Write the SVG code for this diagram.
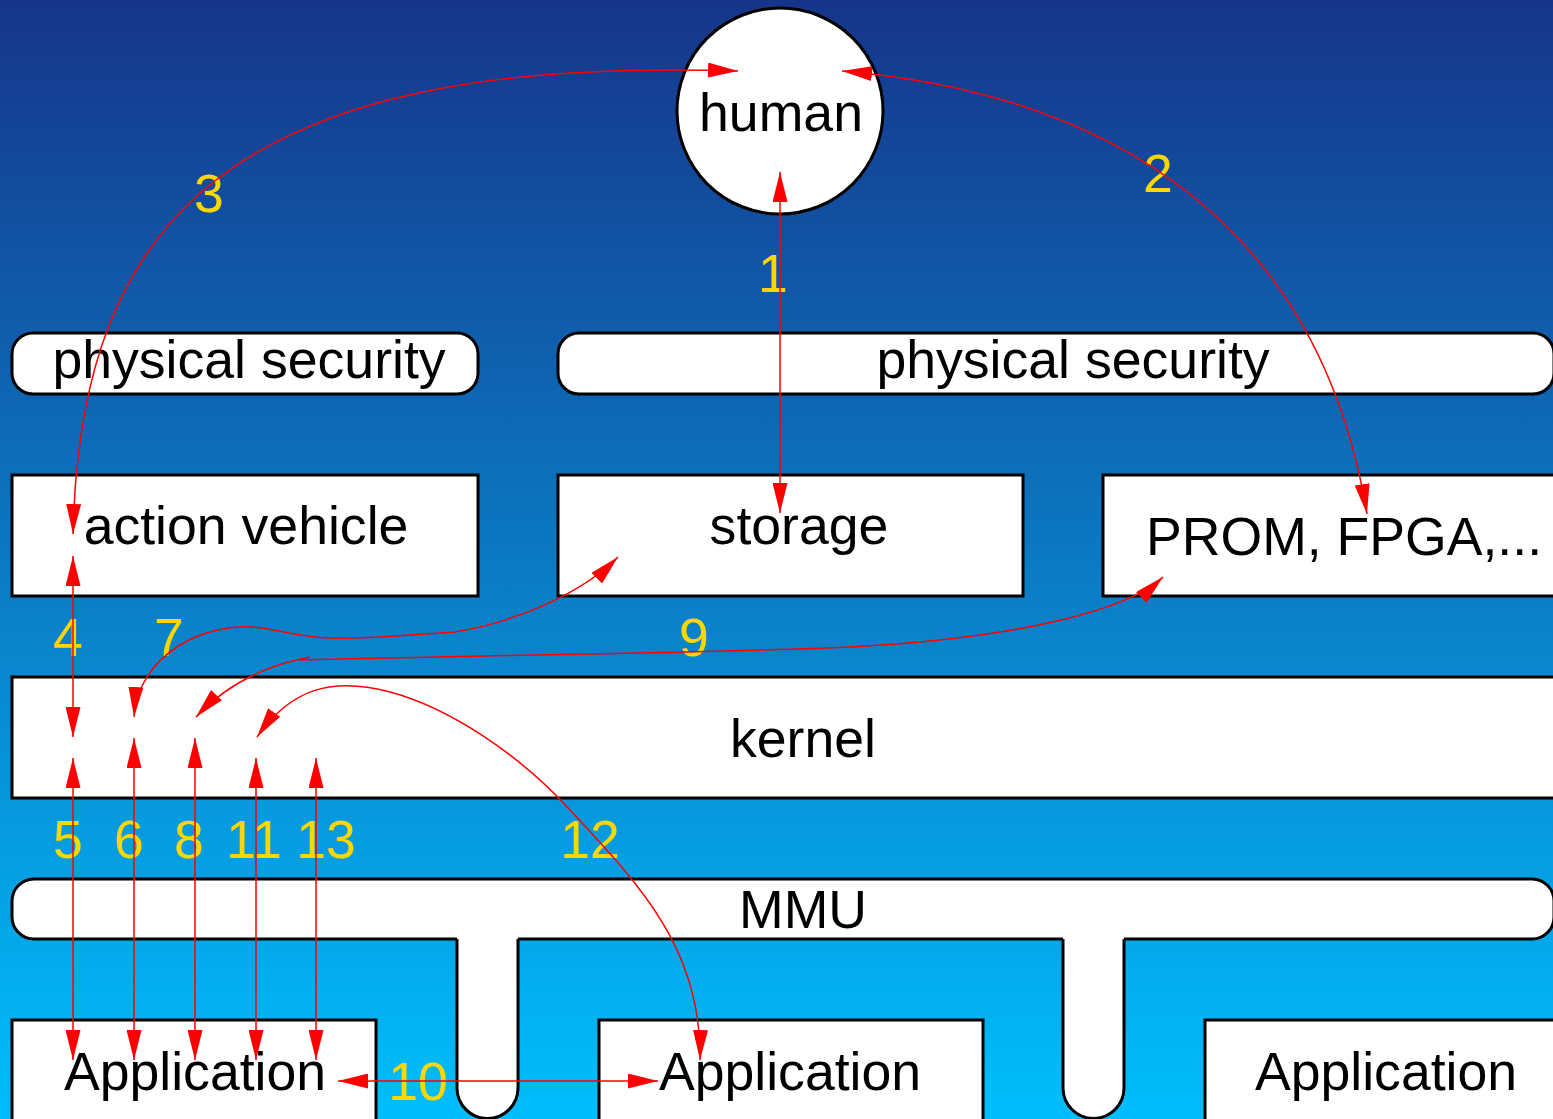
<svg xmlns="http://www.w3.org/2000/svg" width="1553" height="1119" viewBox="0 0 1553 1119">
<defs>
<linearGradient id="bg" x1="0" y1="0" x2="0" y2="1">
<stop offset="0" stop-color="#16358A"/>
<stop offset="1" stop-color="#00BEFC"/>
</linearGradient>
<marker id="ah" markerUnits="userSpaceOnUse" markerWidth="30" markerHeight="15" viewBox="0 0 30 15" refX="30" refY="7.5" orient="auto">
<path d="M0,0 L30,7.5 L0,15 Z" fill="#FF0000"/>
</marker>
<marker id="ahs" markerUnits="userSpaceOnUse" markerWidth="30" markerHeight="15" viewBox="0 0 30 15" refX="30" refY="7.5" orient="auto-start-reverse">
<path d="M0,0 L30,7.5 L0,15 Z" fill="#FF0000"/>
</marker>
</defs>
<style>
.box{fill:#FFFFFF;stroke:#000000;stroke-width:3}
.t{font-family:"Liberation Sans",Arial,sans-serif;font-size:53.6px;fill:#000000;text-anchor:middle}
.n{font-family:"Liberation Sans",Arial,sans-serif;font-size:53.6px;fill:#FFD700;text-anchor:middle}
.c{fill:none;stroke:#FF0000;stroke-width:1.5}
.both{marker-start:url(#ahs);marker-end:url(#ah)}
</style>
<rect x="0" y="0" width="1553" height="1119" fill="url(#bg)"/>

<g id="physical-security-left">
<rect class="box" x="12" y="333" width="466" height="61" rx="21"/>
<text class="t" x="249" y="378">physical security</text>
</g>
<g id="physical-security-right">
<rect class="box" x="558" y="333" width="996" height="61" rx="21"/>
<text class="t" x="1073" y="378">physical security</text>
</g>
<g id="action-vehicle">
<rect class="box" x="12" y="475" width="466" height="121"/>
<text class="t" x="246" y="544">action vehicle</text>
</g>
<g id="storage">
<rect class="box" x="558" y="475" width="465" height="121"/>
<text class="t" x="799" y="544">storage</text>
</g>
<g id="prom">
<rect class="box" x="1103" y="475" width="460" height="121"/>
<text class="t" x="1146" y="555" style="text-anchor:start">PROM, FPGA,...</text>
</g>
<g id="kernel">
<rect class="box" x="12" y="677" width="1551" height="121"/>
<text class="t" x="803" y="757">kernel</text>
</g>
<g id="mmu">
<rect class="box" x="12" y="879" width="1542" height="60" rx="22"/>
<text class="t" x="803" y="928">MMU</text>
</g>
<g id="mmu-pillar-1">
<path d="M457 934 V1088 A30.5 30.5 0 0 0 518 1088 V934 Z" fill="#FFFFFF" stroke="none"/>
<path d="M457 939 V1088 A30.5 30.5 0 0 0 518 1088 V939" fill="none" stroke="#000000" stroke-width="3"/>
</g>
<g id="mmu-pillar-2">
<path d="M1063 934 V1088 A30.5 30.5 0 0 0 1124 1088 V934 Z" fill="#FFFFFF" stroke="none"/>
<path d="M1063 939 V1088 A30.5 30.5 0 0 0 1124 1088 V939" fill="none" stroke="#000000" stroke-width="3"/>
</g>
<g id="application-1">
<rect class="box" x="12" y="1020" width="364" height="120"/>
<text class="t" x="195" y="1090">Application</text>
</g>
<g id="application-2">
<rect class="box" x="599" y="1020" width="384" height="120"/>
<text class="t" x="790" y="1090">Application</text>
</g>
<g id="application-3">
<rect class="box" x="1205" y="1020" width="360" height="120"/>
<text class="t" x="1386" y="1090">Application</text>
</g>
<g id="human">
<circle cx="780" cy="111" r="103" fill="#FFFFFF" stroke="#000000" stroke-width="3"/>
<text class="t" x="781" y="131">human</text>
</g>

<g id="connectors">
<text class="n" x="773" y="292">1</text>
<text class="n" x="1158" y="192">2</text>
<text class="n" x="209" y="212">3</text>
<text class="n" x="68" y="656">4</text>
<text class="n" x="169" y="656">7</text>
<text class="n" x="694" y="656">9</text>
<text class="n" x="68" y="858">5</text>
<text class="n" x="129" y="858">6</text>
<text class="n" x="189" y="858">8</text>
<text class="n" x="254" y="858">11</text>
<text class="n" x="326" y="858">13</text>
<text class="n" x="590" y="858">12</text>
<text class="n" x="418" y="1100">10</text>

<path class="c both" d="M780 172 V513"/>
<path class="c both" d="M842 71 C 1120 95, 1320 230, 1367 514"/>
<path class="c both" d="M738 71 C 230 55, 80 220, 73 534"/>
<path class="c both" d="M73 556 V737"/>
<path class="c both" d="M73 758 V1060"/>
<path class="c both" d="M134 738 V1060"/>
<path class="c both" d="M195 738 V1060"/>
<path class="c both" d="M256 758 V1060"/>
<path class="c both" d="M316 758 V1060"/>
<path class="c both" d="M134 717 C 138 655, 205 620, 262 628 C 300 634, 310 641, 380 637 L 455 632 C 525 620, 585 590, 618 557"/>
<path class="c both" d="M196 717 C 225 686, 262 666, 310 657 M 300 660 C 500 655, 750 652, 850 647 C 1020 638, 1128 610, 1163 577"/>
<path class="c both" d="M257 737 C 290 690, 330 676, 390 692 C 450 708, 520 755, 570 810 C 640 885, 702 950, 700 1060"/>
<path class="c both" d="M338 1081 H658"/>
</g>
</svg>
